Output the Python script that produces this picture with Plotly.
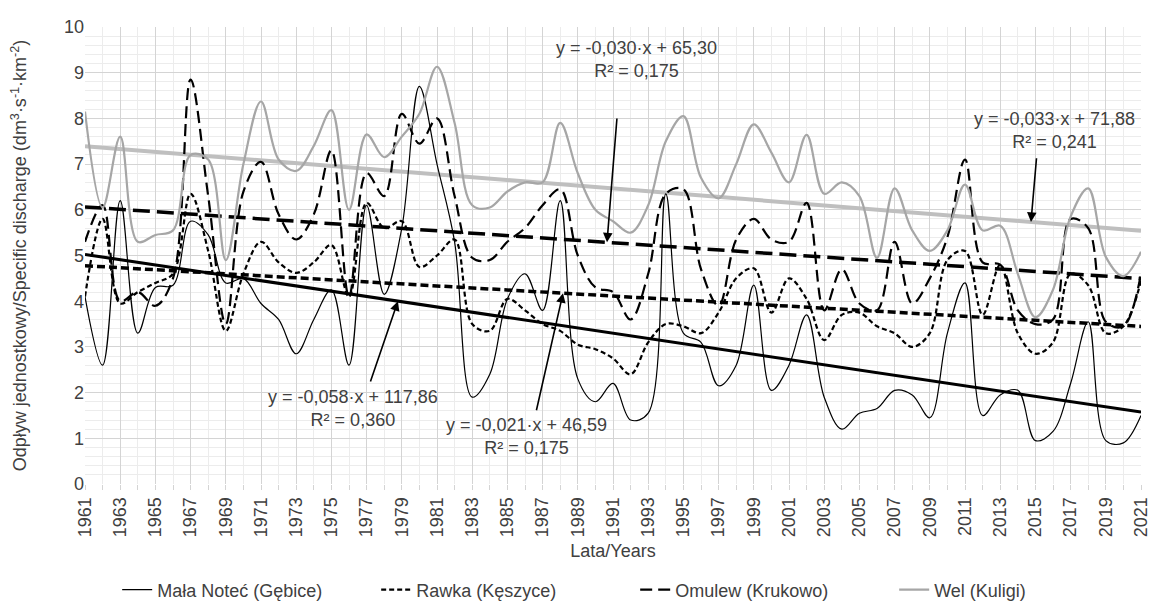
import numpy as np
import plotly.graph_objects as go

years = list(range(1961, 2022))

mala_notec = [4.1, 2.6, 6.2, 3.3, 4.3, 4.35, 5.75, 5.45, 4.4, 4.5,
              3.95, 3.6, 2.85, 3.6, 4.25, 2.6, 6.1, 4.15, 5.6, 8.7,
              7.0, 5.3, 1.9, 2.4, 4.05, 4.6, 3.8, 6.2, 2.3, 1.8,
              2.2, 1.4, 1.55, 6.35, 3.3, 3.1, 2.15, 2.6, 4.35, 2.05,
              2.6, 3.7, 1.9, 1.2, 1.55, 1.65, 2.05, 1.95, 1.45, 3.3,
              4.4, 1.5, 1.95, 2.05, 0.95, 1.15, 2.2, 3.55, 0.95, 0.9, 1.5]

rawka = [4.1, 5.8, 3.95, 4.2, 4.4, 4.6, 6.35, 5.1, 3.35, 4.6,
         5.3, 4.85, 4.62, 4.85, 5.23, 4.1, 6.15, 5.6, 5.75, 4.75,
         5.0, 5.35, 3.5, 3.35, 4.05, 3.8, 3.5, 3.35, 3.05, 2.95,
         2.75, 2.4, 3.1, 3.5, 3.45, 3.3, 3.75, 4.5, 4.72, 3.75,
         4.5, 4.05, 3.15, 3.7, 3.75, 3.45, 3.3, 3.0, 3.3, 4.9,
         5.1, 3.7, 4.8, 3.3, 2.85, 3.1, 4.6, 4.35, 3.3, 3.45, 4.45]

omulew = [5.3, 6.1, 4.0, 4.2, 3.9, 4.5, 8.85, 6.3, 3.5, 6.4,
          7.05, 5.9, 5.35, 5.9, 7.3, 4.1, 6.8, 6.3, 8.1, 7.45,
          8.0, 6.3, 4.95, 4.9, 5.3, 5.6, 6.1, 6.45, 5.0, 4.3,
          4.2, 3.6, 4.6, 6.35, 6.45, 4.7, 3.9, 5.35, 5.8, 5.35,
          5.3, 6.15, 3.8, 4.7, 3.95, 3.8, 5.3, 3.95, 4.5, 5.4,
          7.1, 4.85, 4.8, 3.8, 3.5, 3.6, 5.8, 5.6, 3.55, 3.45, 4.6]

wel = [8.15, 6.05, 7.6, 5.3, 5.45, 5.55, 7.2, 7.1, 4.9, 7.0,
       8.37, 7.1, 6.85, 7.4, 8.18, 6.0, 7.65, 7.15, 7.6, 8.1,
       9.13, 7.9, 6.1, 6.05, 6.4, 6.6, 6.6, 7.9, 6.8, 6.0,
       5.75, 5.5, 6.1, 7.5, 8.05, 6.7, 6.25, 7.0, 7.87, 7.25,
       6.6, 7.64, 6.35, 6.6, 6.3, 4.95, 6.47, 5.55, 5.1, 5.55,
       6.55, 5.55, 5.65, 4.6, 3.65, 4.25, 5.85, 6.47, 4.97, 4.55, 5.08]

series_names = ["Mała Noteć (Gębice)", "Rawka (Kęszyce)", "Omulew (Krukowo)", "Wel (Kuligi)"]
equations = ["y = -0,058·x + 117,86<br>R² = 0,360",
             "y = -0,021·x + 46,59<br>R² = 0,175",
             "y = -0,030·x + 65,30<br>R² = 0,175",
             "y = -0,033·x + 71,88<br>R² = 0,241"]

x_ticks = list(range(1961, 2022, 2))

FONT = "Liberation Sans, Arial, sans-serif"
TXT = "#404040"

data = [mala_notec, rawka, omulew, wel]
styles = [
    dict(color="black", width=1.2, dash="solid"),
    dict(color="black", width=2.2, dash="5px,3px"),
    dict(color="black", width=2.2, dash="12px,6px"),
    dict(color="#a6a6a6", width=2.2, dash="solid"),
]
trend_styles = [
    dict(color="black", width=3, dash="solid"),
    dict(color="black", width=3.5, dash="8px,4px"),
    dict(color="black", width=3.5, dash="17px,7px"),
    dict(color="#bfbfbf", width=4, dash="solid"),
]

fig = go.Figure()
yrs = np.array(years, dtype=float)
fits = [np.polyfit(yrs, np.array(vals), 1) for vals in data]

# trend lines (drawn below the data lines)
for i, st in enumerate(trend_styles):
    k, b = fits[i]
    fig.add_trace(go.Scatter(x=years, y=list(k * yrs + b), mode="lines",
                             line=st, showlegend=False, hoverinfo="skip"))

for name, vals, st in zip(series_names, data, styles):
    fig.add_trace(go.Scatter(x=years, y=vals, mode="lines", name=name,
                             line=dict(shape="spline", smoothing=1.0, **st)))

# equation labels: (text center x, center y) and arrow (head x, tail x, tail y)
label_pos = [(1976.2, 1.66), (1986.06, 1.04), (1992.36, 9.28), (2016.1, 7.74)]
arrows = [(1978.78, 1977.19, 2.21), (1988.16, 1986.63, 1.58),
          (1990.66, 1991.23, 8.03), (2014.75, 2015.07, 7.16)]

for i in range(4):
    lx, ly = label_pos[i]
    fig.add_annotation(x=lx, y=ly, xref="x", yref="y", text=equations[i],
                       showarrow=False, font=dict(family=FONT, size=18, color=TXT),
                       align="center")
    hx, tx, ty = arrows[i]
    k, b = fits[i]
    fig.add_annotation(x=hx, y=k * hx + b, xref="x", yref="y", ax=tx, ay=ty,
                       axref="x", ayref="y", text="", showarrow=True,
                       arrowhead=2, arrowsize=1.2, arrowwidth=1.6, arrowcolor="black")

grid_major = "#d4d4d4"
grid_minor = "#ececec"

fig.update_layout(
    width=1151, height=609,
    margin=dict(l=85, r=10, t=27, b=125, autoexpand=False),
    paper_bgcolor="white", plot_bgcolor="white",
    font=dict(family=FONT, size=18, color=TXT),
    showlegend=True,
    legend=dict(orientation="h", x=0.521, xanchor="center", y=-0.232, yanchor="middle",
                font=dict(family=FONT, size=18, color=TXT),
                entrywidth=214, itemwidth=30),
    xaxis=dict(range=[1961, 2021], tickmode="array", tickvals=x_ticks,
               ticktext=[str(t) for t in x_ticks], tickangle=-90,
               automargin=False,
               showgrid=True, gridcolor=grid_major, gridwidth=1,
               zeroline=False, showline=False,
               ticks="outside", ticklen=5, tickcolor=grid_major,
               minor=dict(dtick=1, tick0=1961, showgrid=True, gridcolor=grid_minor,
                          ticks="outside", ticklen=5, tickcolor=grid_major),
               tickfont=dict(family=FONT, size=18, color=TXT),
               title=dict(text="Lata/Years", standoff=8,
                          font=dict(family=FONT, size=18, color=TXT))),
    yaxis=dict(range=[0, 10], tickmode="linear", tick0=0, dtick=1,
               automargin=False,
               showgrid=True, gridcolor=grid_major, gridwidth=1,
               zeroline=False, showline=False,
               minor=dict(dtick=0.2, showgrid=True, gridcolor=grid_minor),
               tickfont=dict(family=FONT, size=18, color=TXT),
               title=dict(text="Odpływ jednostkowy/Specific discharge (dm<sup>3</sup>·s<sup>-1</sup>·km<sup>-2</sup>)",
                          standoff=32, font=dict(family=FONT, size=18, color=TXT))),
)

fig.write_html("out.html")
